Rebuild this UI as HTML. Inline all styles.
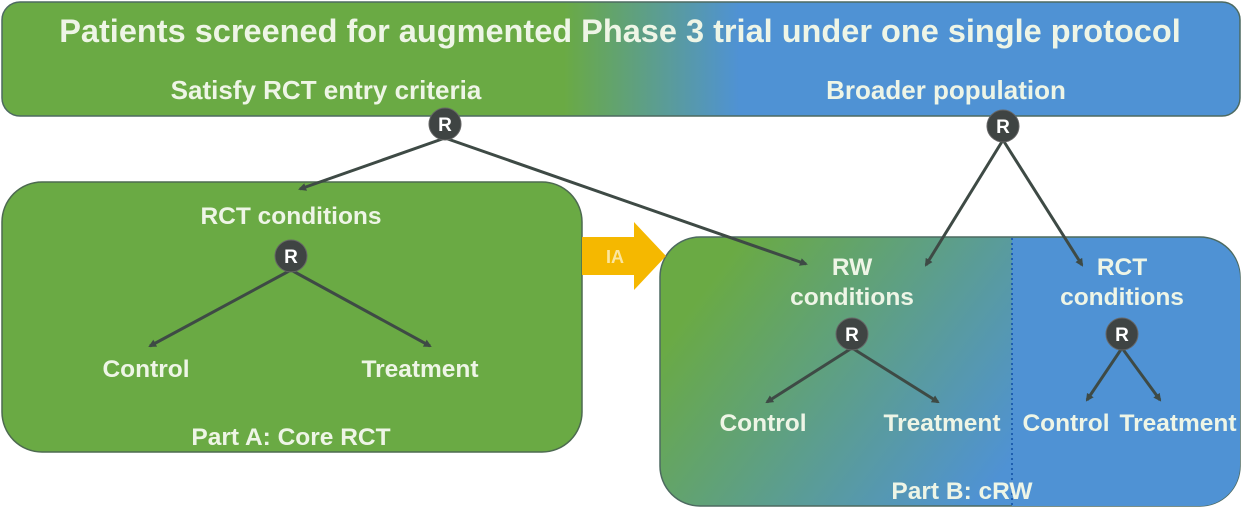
<!DOCTYPE html>
<html><head><meta charset="utf-8"><style>
html,body{margin:0;padding:0;background:#fff;width:1253px;height:522px;overflow:hidden}
text{font-family:"Liberation Sans",sans-serif;font-weight:bold;fill:#eef5e6;text-anchor:middle}
</style></head><body>
<svg width="1253" height="522" viewBox="0 0 1253 522">
<defs>
<linearGradient id="gt" x1="0" y1="0" x2="1253" y2="0" gradientUnits="userSpaceOnUse">
<stop offset="0.45" stop-color="#6aaa44"/><stop offset="0.59" stop-color="#4f92d4"/><stop offset="1" stop-color="#4f92d4"/>
</linearGradient>
<linearGradient id="gb" x1="660" y1="240" x2="1010" y2="500" gradientUnits="userSpaceOnUse">
<stop offset="0.15" stop-color="#6aaa44"/><stop offset="0.95" stop-color="#4f92d4"/>
</linearGradient>
<marker id="ah" markerWidth="8" markerHeight="8" refX="6" refY="4" orient="auto" markerUnits="userSpaceOnUse">
<path d="M0,0 L8,4 L0,8 z" fill="#3e4a45"/></marker>
</defs>
<rect x="2" y="2" width="1238" height="114" rx="18" fill="url(#gt)" stroke="#4d6a60" stroke-width="1.5"/>
<rect x="2" y="182" width="580" height="270" rx="40" fill="#6aaa44" stroke="#4d6a50" stroke-width="1.5"/>
<rect x="660" y="237" width="580" height="269" rx="40" fill="url(#gb)" stroke="#4d6a60" stroke-width="1.5"/>
<path d="M1012,238 L1200,238 A40,40 0 0 1 1240,278 L1240,466 A40,40 0 0 1 1200,506 L1012,506 Z" fill="#4f92d4"/>
<line x1="1012" y1="238" x2="1012" y2="506" stroke="#1f5fb0" stroke-width="2" stroke-dasharray="2,3"/>
<path d="M582,237 L634,237 L634,222 L666,256 L634,290 L634,275 L582,275 Z" fill="#f5b800"/>
<text x="615" y="263" font-size="18" style="fill:#fbe6a0">IA</text>
<g stroke="#3e4a45" stroke-width="3" marker-end="url(#ah)">
<line x1="445" y1="138" x2="300" y2="189"/>
<line x1="445" y1="138" x2="806" y2="264"/>
<line x1="1003" y1="140" x2="926" y2="265"/>
<line x1="1003" y1="140" x2="1082" y2="265"/>
<line x1="291" y1="270" x2="150" y2="346"/>
<line x1="291" y1="270" x2="430" y2="346"/>
<line x1="852" y1="348" x2="767" y2="402"/>
<line x1="852" y1="348" x2="938" y2="402"/>
<line x1="1122" y1="348" x2="1087" y2="400"/>
<line x1="1122" y1="348" x2="1160" y2="400"/>
</g>
<g fill="#3f4443" stroke="#666" stroke-width="1">
<circle cx="445" cy="124" r="16"/><circle cx="1003" cy="126" r="16"/><circle cx="291" cy="256" r="16"/><circle cx="852" cy="334" r="16"/><circle cx="1122" cy="334" r="16"/>
</g>
<g font-size="19"><text x="445" y="131" style="fill:#fff">R</text><text x="1003" y="133" style="fill:#fff">R</text><text x="291" y="263" style="fill:#fff">R</text><text x="852" y="341" style="fill:#fff">R</text><text x="1122" y="341" style="fill:#fff">R</text></g>
<text x="620" y="42" font-size="32.5">Patients screened for augmented Phase 3 trial under one single protocol</text>
<g font-size="26">
<text x="326" y="99">Satisfy RCT entry criteria</text>
<text x="946" y="99">Broader population</text>
</g>
<g font-size="24.5">
<text x="291" y="224">RCT conditions</text>
<text x="146" y="377">Control</text>
<text x="420" y="377">Treatment</text>
<text x="291" y="445">Part A: Core RCT</text>
<text x="852" y="275">RW</text>
<text x="852" y="305">conditions</text>
<text x="1122" y="275">RCT</text>
<text x="1122" y="305">conditions</text>
<text x="763" y="431">Control</text>
<text x="942" y="431">Treatment</text>
<text x="1066" y="431">Control</text>
<text x="1178" y="431">Treatment</text>
<text x="962" y="499">Part B: cRW</text>
</g>
</svg>
</body></html>
